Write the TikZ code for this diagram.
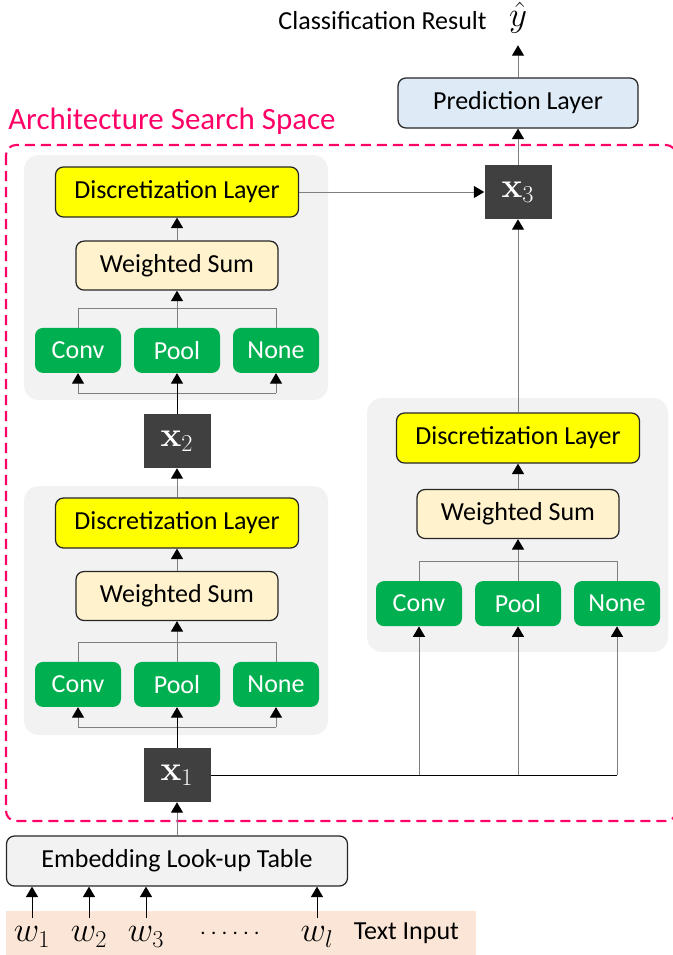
\documentclass[tikz,border=0pt]{standalone}
\usepackage[no-math]{fontspec}
\setmainfont{Carlito}
\usepackage{amsmath}
\usepackage{xcolor}
\usepackage{tikz}
\usetikzlibrary{calc, arrows.meta}

\definecolor{searchpink}{HTML}{FF0066}
\definecolor{discyellow}{HTML}{FFFF00}
\definecolor{sumcream}{HTML}{FFF2CC}
\definecolor{opgreen}{HTML}{00B050}
\definecolor{panelgray}{HTML}{F2F2F2}
\definecolor{nodedark}{HTML}{404040}
\definecolor{predblue}{HTML}{DEEBF7}
\definecolor{inputpeach}{HTML}{FBE5D6}
\definecolor{linegray}{HTML}{7F7F7F}

\tikzset{
  every node/.style={font=\fontsize{18.5}{22}\selectfont},
  mathfont/.style={font=\fontsize{23}{27}\selectfont},
  panel/.style={rectangle, rounded corners=0.375cm, fill=panelgray},
  layerbox/.style={rectangle, rounded corners=0.2cm, draw=black!85, line width=0.9pt, minimum height=1.25cm},
  discbox/.style={layerbox, fill=discyellow, minimum width=6.075cm},
  sumbox/.style={layerbox, fill=sumcream, minimum width=5.05cm, minimum height=1.225cm},
  opbox/.style={rectangle, rounded corners=0.2cm, fill=opgreen, text=white, minimum width=2.15cm, minimum height=1.125cm},
  xbox/.style={rectangle, fill=nodedark, text=white, minimum width=1.675cm, minimum height=1.35cm, mathfont},
  link/.style={draw=linegray, line width=0.7pt},
  >={Triangle[width=3mm, length=2.6mm, color=black]}
}

\begin{document}
\begin{tikzpicture}

        \useasboundingbox (0,0) rectangle (16.8,-23.875);

        %% Search space frame
        \draw [searchpink, line width=1.5pt, dash pattern=on 0.25cm off 0.15cm, rounded corners=0.25cm] (0.15,-3.625) rectangle (16.9,-20.525);
        \node (title) [anchor=base west, inner sep=0pt, text=searchpink, font=\fontsize{22}{26}\selectfont] at (0.2,-3.225) {Architecture Search Space};

        %% Panels
        \node (panelT) [panel, minimum width=7.6cm, minimum height=6.125cm] at (4.4,-6.9375) {};
        \node (panelB) [panel, minimum width=7.6cm, minimum height=6.225cm] at (4.4,-15.2625) {};
        \node (panelR) [panel, minimum width=7.525cm, minimum height=6.35cm] at (12.9375,-13.125) {};

        %% Output
        \node (result) [anchor=base east, inner sep=0pt] at (12.175,-0.73) {Classification Result};
        \node (yhat) [mathfont, inner sep=0pt, minimum height=1.375cm] at (12.95,-0.4375) {$\hat{y}$};
        \node (pred) [layerbox, fill=predblue, minimum width=6cm] at (12.95,-2.575) {Prediction Layer};

        %% Top cell
        \node (discT) [discbox] at (4.425,-4.8) {Discretization Layer};
        \node (sumT) [sumbox] at (4.425,-6.64) {Weighted Sum};
        \node (convT) [opbox] at (1.95,-8.76) {Conv};
        \node (poolT) [opbox] at (4.425,-8.76) {Pool};
        \node (noneT) [opbox] at (6.9,-8.76) {None};

        %% Bottom cell
        \node (discB) [discbox] at (4.425,-13.075) {Discretization Layer};
        \node (sumB) [sumbox] at (4.425,-14.9) {Weighted Sum};
        \node (convB) [opbox] at (1.95,-17.11) {Conv};
        \node (poolB) [opbox] at (4.425,-17.11) {Pool};
        \node (noneB) [opbox] at (6.9,-17.11) {None};

        %% Right cell
        \node (discR) [discbox] at (12.95,-10.95) {Discretization Layer};
        \node (sumR) [sumbox] at (12.95,-12.85) {Weighted Sum};
        \node (convR) [opbox] at (10.475,-15.09) {Conv};
        \node (poolR) [opbox] at (12.95,-15.09) {Pool};
        \node (noneR) [opbox] at (15.425,-15.09) {None};

        %% Hidden states
        \node (x1) [xbox] at (4.425,-19.375) {$\mathbf{x}_1$};
        \node (x2) [xbox] at (4.425,-11.025) {$\mathbf{x}_2$};
        \node (x3) [xbox] at (12.95,-4.8) {$\mathbf{x}_3$};

        %% Input
        \node (emb) [layerbox, fill=panelgray, minimum width=8.525cm] at (4.425,-21.525) {Embedding Look-up Table};
        \node (textband) [fill=inputpeach, minimum width=11.75cm, minimum height=1.1cm] at (6.025,-23.325) {};
        \node (w1) [mathfont, minimum height=0.95cm] at (0.8,-23.425) {$w_1$};
        \node (w2) [mathfont, minimum height=0.95cm] at (2.225,-23.425) {$w_2$};
        \node (w3) [mathfont, minimum height=0.95cm] at (3.65,-23.425) {$w_3$};
        \node (wdots) at (5.8,-23.35) {$\cdots\cdots$};
        \node (wl) [mathfont, minimum height=0.95cm] at (7.925,-23.425) {$w_l$};
        \node (textin) at (10.16,-23.325) {Text Input};

        %% Top cell links
        \draw [link] (convT.north) -- ++(0,0.475) -| (noneT.north);
        \draw [link, ->] (poolT.north) -- (sumT.south);
        \draw [link, ->] (sumT.north) -- (discT.south);
        \draw [link] ($(convT.south)+(0,-0.5)$) -- ($(noneT.south)+(0,-0.5)$);
        \draw [link, ->] ($(convT.south)+(0,-0.5)$) -- (convT.south);
        \draw [link, ->] ($(noneT.south)+(0,-0.5)$) -- (noneT.south);
        \draw [black, line width=0.7pt, ->] (x2.north) -- (poolT.south);

        %% Bottom cell links
        \draw [link] (convB.north) -- ++(0,0.475) -| (noneB.north);
        \draw [link, ->] (poolB.north) -- (sumB.south);
        \draw [link, ->] (sumB.north) -- (discB.south);
        \draw [link, ->] (discB.north) -- (x2.south);
        \draw [link] ($(convB.south)+(0,-0.5)$) -- ($(noneB.south)+(0,-0.5)$);
        \draw [link, ->] ($(convB.south)+(0,-0.5)$) -- (convB.south);
        \draw [link, ->] ($(noneB.south)+(0,-0.5)$) -- (noneB.south);
        \draw [black, line width=0.7pt, ->] (x1.north) -- (poolB.south);

        %% Right cell links
        \draw [link] (convR.north) -- ++(0,0.475) -| (noneR.north);
        \draw [link, ->] (poolR.north) -- (sumR.south);
        \draw [link, ->] (sumR.north) -- (discR.south);
        \draw [black, line width=0.7pt] (x1.east) -- (x1.east -| noneR.south);
        \draw [link, ->] (x1.east -| convR.south) -- (convR.south);
        \draw [link, ->] (x1.east -| poolR.south) -- (poolR.south);
        \draw [link, ->] (x1.east -| noneR.south) -- (noneR.south);

        %% To the output
        \draw [link, ->] (discT.east) -- (x3.west);
        \draw [link, ->] (discR.north) -- (x3.south);
        \draw [link, ->] (x3.north) -- (pred.south);
        \draw [link, ->] (pred.north) -- (yhat.south);

        %% From the input
        \draw [link, ->] (emb.north) -- (x1.south);
        \draw [black, line width=0.7pt, ->] (w1.north) -- (w1.north |- emb.south);
        \draw [black, line width=0.7pt, ->] (w2.north) -- (w2.north |- emb.south);
        \draw [black, line width=0.7pt, ->] (w3.north) -- (w3.north |- emb.south);
        \draw [black, line width=0.7pt, ->] (wl.north) -- (wl.north |- emb.south);

\end{tikzpicture}
\end{document}
